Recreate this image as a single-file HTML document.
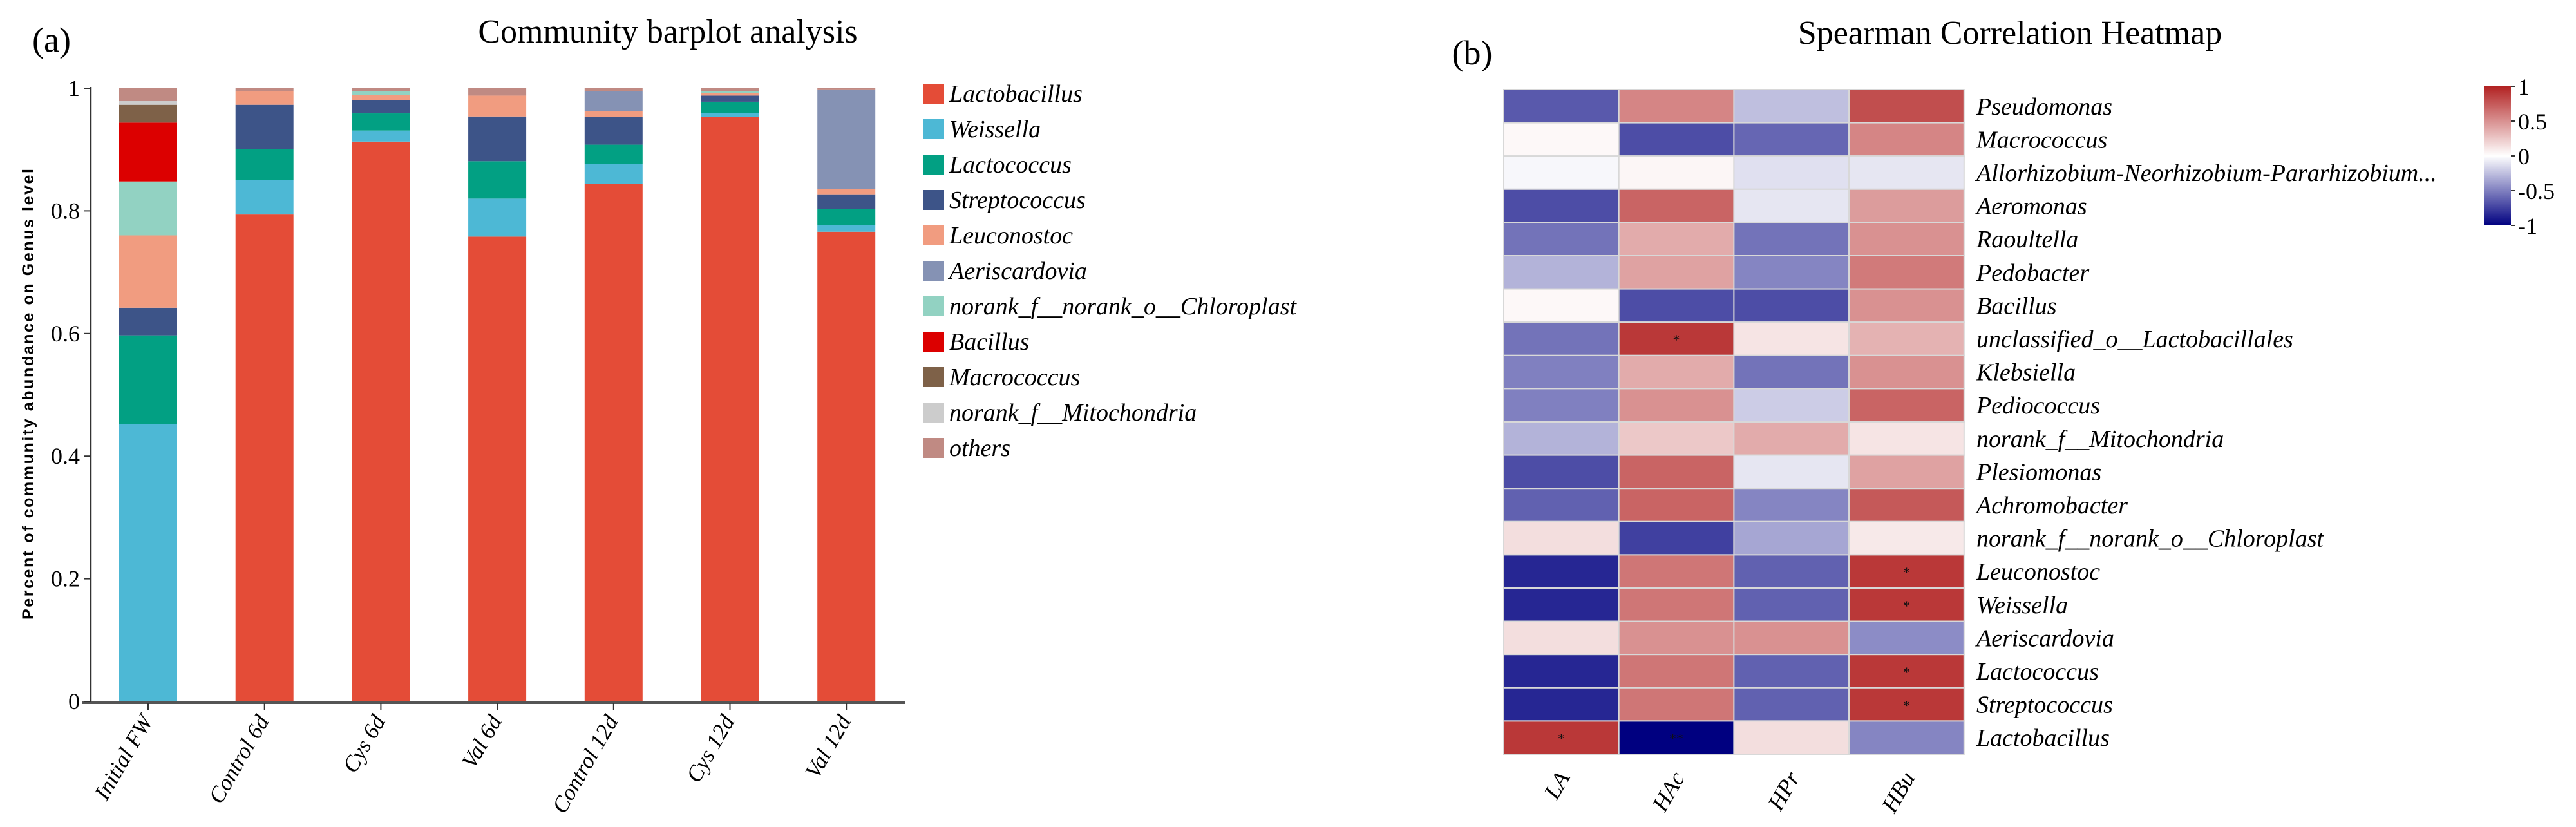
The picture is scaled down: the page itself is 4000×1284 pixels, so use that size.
<!DOCTYPE html>
<html><head><meta charset="utf-8"><style>
html,body{margin:0;padding:0;background:#fff;}
svg{display:block;font-family:"Liberation Serif",serif;}
</style></head><body>
<svg id="fig" width="4000" height="1284" viewBox="0 0 4000 1284" xmlns="http://www.w3.org/2000/svg">
<text x="50" y="80" font-size="54">(a)</text>
<text x="1037" y="66" font-size="52" text-anchor="middle">Community barplot analysis</text>
<g id="barChart"></g>
<text x="2286" y="100" font-size="54" text-anchor="middle">(b)</text>
<text x="3121" y="68" font-size="52" text-anchor="middle">Spearman Correlation Heatmap</text>
<g id="heat"></g>
<defs><linearGradient id="cbg" x1="0" y1="0" x2="0" y2="1">
<stop offset="0" stop-color="rgb(178,34,34)"/><stop offset="0.5" stop-color="#fff"/><stop offset="1" stop-color="rgb(0,0,128)"/></linearGradient></defs>
<g id="cbar"></g>
</svg>
<script>
const NS="http://www.w3.org/2000/svg";
function mk(tag,attrs,parent,txt){const e=document.createElementNS(NS,tag);for(const k in attrs)e.setAttribute(k,attrs[k]);if(txt!==undefined)e.textContent=txt;parent.appendChild(e);return e;}

// ---- bar chart data ----
const samples=["Initial FW","Control 6d","Cys 6d","Val 6d","Control 12d","Cys 12d","Val 12d"];
const genera=["Lactobacillus","Weissella","Lactococcus","Streptococcus","Leuconostoc","Aeriscardovia","norank_f__norank_o__Chloroplast","Bacillus","Macrococcus","norank_f__Mitochondria","others"];
const generaColors=["#E44C37","#4DB8D5","#02A083","#3D5488","#F19C80","#8592B4","#92D2C2","#DC0000","#7E6148","#CCCCCC","#C08A83"];
const sLactobacillus=[0,0.794,0.913,0.758,0.844,0.953,0.766];
const sWeissella=[0.452,0.056,0.018,0.062,0.033,0.007,0.011];
const sLactococcus=[0.145,0.051,0.028,0.061,0.031,0.018,0.026];
const sStreptococcus=[0.045,0.072,0.022,0.073,0.045,0.010,0.024];
const sLeuconostoc=[0.118,0.022,0.008,0.034,0.010,0.004,0.009];
const sAeriscardovia=[0,0,0,0,0.032,0,0.162];
const sChloroplast=[0.088,0,0.006,0,0,0.003,0];
const sBacillus=[0.096,0,0,0,0,0,0];
const sMacrococcus=[0.029,0,0,0,0,0,0];
const sMitochondria=[0.006,0,0,0,0,0,0];
const sOthers=[0.021,0.005,0.005,0.012,0.005,0.005,0.002];
const yTicks=[0,0.2,0.4,0.6,0.8,1];
const yTickLabels=["0","0.2","0.4","0.6","0.8","1"];

const series=[sLactobacillus,sWeissella,sLactococcus,sStreptococcus,sLeuconostoc,sAeriscardovia,sChloroplast,sBacillus,sMacrococcus,sMitochondria,sOthers];
const bc=document.getElementById('barChart');
const Y0=1089,Y1=137;
const yScale=v=>Y0-(Y0-Y1)*v;
const xScale=i=>185+i*180.7;
const BW=90;
let e=mk('line',{x1:141,y1:Y1-2,x2:141,y2:Y0,stroke:'#333','stroke-width':2.5},bc);


e=mk('line',{x1:128,y1:Y0+2,x2:1405,y2:Y0+2,stroke:'#555','stroke-width':4},bc);


yTicks.forEach((t,i)=>{
  mk('line',{x1:130,y1:yScale(t),x2:141,y2:yScale(t),stroke:'#333','stroke-width':2},bc);
  const l=mk('text',{x:124,y:yScale(t)+12,'font-size':36,'text-anchor':'end'},bc,yTickLabels[i]);
  
  
});
e=mk('text',{x:0,y:0,'font-size':25,'font-weight':'bold','font-family':'"Liberation Sans",sans-serif','text-anchor':'middle',textLength:700,lengthAdjust:'spacing',transform:'translate(52,612) rotate(-90)'},bc,'Percent of community abundance on Genus level');


samples.forEach((s,i)=>{
  let acc=0;
  const x=xScale(i);
  series.forEach((ser,k)=>{
    const v=ser[i]; if(v<=0) return;
    const r=mk('rect',{x:x,y:yScale(acc+v),width:BW,height:yScale(acc)-yScale(acc+v),fill:generaColors[k]},bc);
    
    
    acc+=v;
  });
  const cx=x+BW/2;
  mk('line',{x1:cx,y1:Y0+2,x2:cx,y2:Y0+14,stroke:'#333','stroke-width':2},bc);
  const t=mk('text',{x:0,y:0,'font-size':35,'font-style':'italic','text-anchor':'end',transform:`translate(${cx+8},${Y0+30}) rotate(-60)`},bc,s);
  
  
});
genera.forEach((g,k)=>{
  const y=130+k*55;
  const r=mk('rect',{x:1434,y:y,width:32,height:31,fill:generaColors[k]},bc);
  
  
  const t=mk('text',{x:1474,y:y+28,'font-size':38,'font-style':'italic'},bc,g);
  
  
});

// ---- heatmap data ----
const hmRows=["Pseudomonas","Macrococcus","Allorhizobium-Neorhizobium-Pararhizobium...","Aeromonas","Raoultella","Pedobacter","Bacillus","unclassified_o__Lactobacillales","Klebsiella","Pediococcus","norank_f__Mitochondria","Plesiomonas","Achromobacter","norank_f__norank_o__Chloroplast","Leuconostoc","Weissella","Aeriscardovia","Lactococcus","Streptococcus","Lactobacillus"];
const hmCols=["LA","HAc","HPr","HBu"];
const cLA=[-0.65,0.03,-0.03,-0.7,-0.55,-0.3,0.03,-0.55,-0.5,-0.5,-0.3,-0.7,-0.62,0.15,-0.85,-0.85,0.15,-0.85,-0.85,0.9];
const cHAc=[0.55,-0.7,0.04,0.7,0.38,0.42,-0.7,0.9,0.38,0.5,0.25,0.7,0.7,-0.75,0.62,0.62,0.5,0.62,0.62,-1];
const cHPr=[-0.25,-0.6,-0.12,-0.1,-0.55,-0.48,-0.7,0.12,-0.55,-0.2,0.38,-0.1,-0.48,-0.35,-0.62,-0.62,0.5,-0.62,-0.62,0.15];
const cHBu=[0.8,0.55,-0.1,0.45,0.5,0.6,0.5,0.35,0.5,0.7,0.12,0.42,0.75,0.1,0.9,0.9,-0.45,0.9,0.9,-0.48];
const sigLA=["","","","","","","","","","","","","","","","","","","","*"];
const sigHAc=["","","","","","","","*","","","","","","","","","","","","**"];
const sigHPr=["","","","","","","","","","","","","","","","","","","",""];
const sigHBu=["","","","","","","","","","","","","","","*","*","","*","*",""];
const cbTicks=[1,0.5,0,-0.5,-1];
const cbLabels=["1","0.5","0","-0.5","-1"];

const cols=[cLA,cHAc,cHPr,cHBu];
const sigs=[sigLA,sigHAc,sigHPr,sigHBu];
function col(v){
  let r,g,b;
  if(v>=0){r=255+(178-255)*v;g=255+(34-255)*v;b=255+(34-255)*v;}
  else{const a=-v;r=255*(1-a);g=255*(1-a);b=255+(128-255)*a;}
  return `rgb(${Math.round(r)},${Math.round(g)},${Math.round(b)})`;
}
const hm=document.getElementById('heat');
const HX=2335,HY=139,CW=178.7,RH=51.6;
const hx=j=>HX+j*CW, hy=i=>HY+i*RH;
hmRows.forEach((rn,i)=>{
  cols.forEach((c,j)=>{
    const r=mk('rect',{x:hx(j),y:hy(i),width:CW,height:RH,fill:col(c[i]),stroke:'#d8d8d8','stroke-width':2},hm);
    
    
    if(sigs[j][i]){
      const s=mk('text',{x:hx(j)+CW/2,y:hy(i)+RH/2+9,'font-size':22,'text-anchor':'middle',fill:'#111'},hm,sigs[j][i]);
      
      
    }
  });
  const t=mk('text',{x:3069,y:hy(i)+RH/2+13,'font-size':38,'font-style':'italic'},hm,rn);
  
  
});
hmCols.forEach((cn,j)=>{
  const cx=hx(j)+CW/2;
  const t=mk('text',{x:0,y:0,'font-size':36,'font-style':'italic','text-anchor':'end',transform:`translate(${cx+14},${HY+20*RH+36}) rotate(-60)`},hm,cn);
  
  
});
const cb=document.getElementById('cbar');
const CBT=134,CBB=350;
e=mk('rect',{x:3857,y:CBT,width:42,height:CBB-CBT,fill:'url(#cbg)'},cb);


const cbY=v=>CBT+(1-v)/2*(CBB-CBT);
cbTicks.forEach((t,i)=>{
  mk('line',{x1:3899,y1:cbY(t),x2:3906,y2:cbY(t),stroke:'#333','stroke-width':2},cb);
  const l=mk('text',{x:3910,y:cbY(t)+13,'font-size':36},cb,cbLabels[i]);
  
  
});
</script>
</body></html>
